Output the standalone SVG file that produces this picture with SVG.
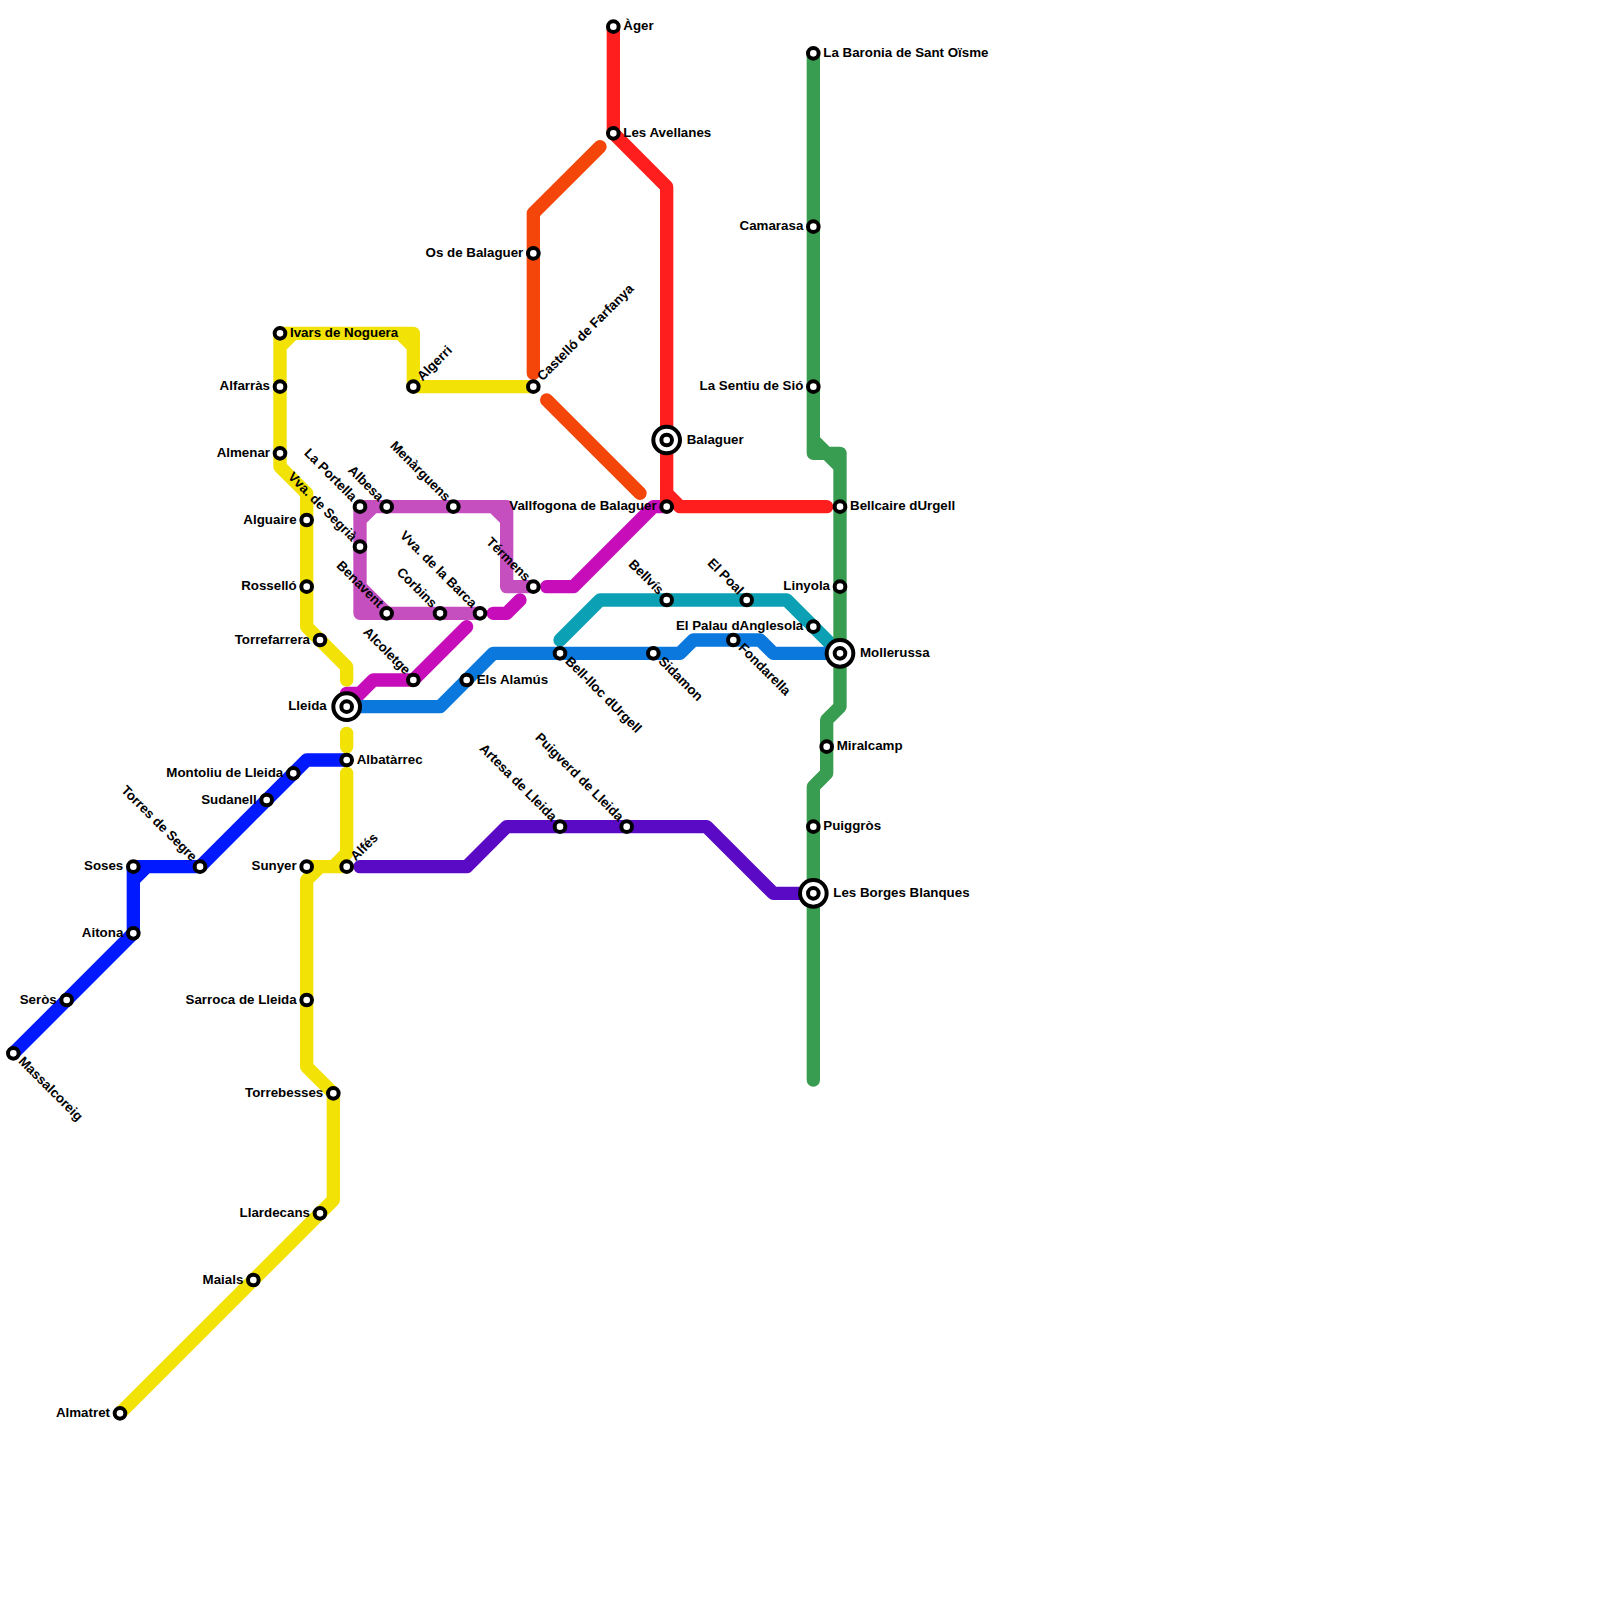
<svg xmlns="http://www.w3.org/2000/svg" width="1600" height="1600" viewBox="0 0 1600 1600">
<style>
.st{fill:#fff;stroke:#000;stroke-width:4}
.ring{fill:#fff;stroke:#000;stroke-width:4}
text{font-family:"Liberation Sans",Arial,sans-serif;font-size:13.33px;font-weight:700;fill:#000}
.e{text-anchor:end}
</style>
<rect width="1600" height="1600" fill="#fff"/>
<g id="connectors" transform="scale(13.3333)">
<g stroke-width="1" fill="none" stroke-linecap="round" stroke-linejoin="round">
<path stroke="#f2e205" d="M21 34V25H31V29M21 26L22 25M30 25L31 26M21 34V35L23 37V47L26 50V51M26 55V56M26 58V64L25 65M23 65H26M24 65L23 66V80L25 82V90L9 106M31 29H40"/>
<path stroke="#0019ff" d="M1 79L10 70V65H15L23 57H26M10 66L11 65"/>
<path stroke="#c64fbf" d="M27 46V38H38V44H40M27 39L28 38M37 38L38 39M27 46H36M27 44L29 46M27 45L28 46"/>
<path stroke="#c70cb9" d="M41 44H43L49 38H50M37 46H38L39 45M35 47L31 51H28L26 53M26 52H27L28 51"/>
<path stroke="#f4460a" d="M40 28V16L45 11M41 30L48 37"/>
<path stroke="#ff1e1e" d="M46 2V10L50 14V37L51 38H62M50 37V38"/>
<path stroke="#0ba0b3" d="M42 48L45 45H59L63 49"/>
<path stroke="#0a78dc" d="M26 53H33L37 49H51L52 48H57L58 49H63"/>
<path stroke="#389d50" d="M61 4V34H63V53L62 54V58L61 59V81M61 33L63 35"/>
<path stroke="#5a0ac4" d="M27 65H35L38 62H53L58 67H61"/>
</g>
</g>
<g id="stations">
<g id="ager"><circle class="st" cx="613.33" cy="26.67" r="5.33"/><text x="623.3" y="30.2">Àger</text></g>
<g id="avellanes"><circle class="st" cx="613.33" cy="133.33" r="5.33"/><text x="623.3" y="136.8">Les Avellanes</text></g>
<g id="baronia"><circle class="st" cx="813.33" cy="53.33" r="5.33"/><text x="823.3" y="56.8">La Baronia de Sant Oïsme</text></g>
<g id="camarasa"><circle class="st" cx="813.33" cy="226.67" r="5.33"/><text class="e" x="803.3" y="230.2">Camarasa</text></g>
<g id="sentiu"><circle class="st" cx="813.33" cy="386.67" r="5.33"/><text class="e" x="803.3" y="390.2">La Sentiu de Sió</text></g>
<g id="os"><circle class="st" cx="533.33" cy="253.33" r="5.33"/><text class="e" x="523.3" y="256.8">Os de Balaguer</text></g>
<g id="ivars"><circle class="st" cx="280" cy="333.33" r="5.33"/><text x="290" y="336.8">Ivars de Noguera</text></g>
<g id="alfarras"><circle class="st" cx="280" cy="386.67" r="5.33"/><text class="e" x="270" y="390.2">Alfarràs</text></g>
<g id="almenar"><circle class="st" cx="280" cy="453.33" r="5.33"/><text class="e" x="270" y="456.8">Almenar</text></g>
<g id="alguaire"><circle class="st" cx="306.67" cy="520" r="5.33"/><text class="e" x="296.7" y="523.5">Alguaire</text></g>
<g id="rossello"><circle class="st" cx="306.67" cy="586.67" r="5.33"/><text class="e" x="296.7" y="590.2">Rosselló</text></g>
<g id="torrefarrera"><circle class="st" cx="320" cy="640" r="5.33"/><text class="e" x="310" y="643.5">Torrefarrera</text></g>
<g id="algerri"><circle class="st" cx="413.33" cy="386.67" r="5.33"/><text transform="translate(413.33 386.67) rotate(-45)" x="10" y="2.8">Algerri</text></g>
<g id="castello"><circle class="st" cx="533.33" cy="386.67" r="5.33"/><text transform="translate(533.33 386.67) rotate(-45)" x="10" y="2.8">Castelló de Farfanya</text></g>
<g id="alfes"><circle class="st" cx="346.67" cy="866.67" r="5.33"/><text transform="translate(346.67 866.67) rotate(-45)" x="10" y="2.8">Alfés</text></g>
<g id="portella"><circle class="st" cx="360" cy="506.67" r="5.33"/><text class="e" transform="translate(360 506.67) rotate(45)" x="-9.3" y="2.6">La Portella</text></g>
<g id="segria"><circle class="st" cx="360" cy="546.67" r="5.33"/><text class="e" transform="translate(360 546.67) rotate(45)" x="-9.3" y="2.6">Vva. de Segrià</text></g>
<g id="albesa"><circle class="st" cx="386.67" cy="506.67" r="5.33"/><text class="e" transform="translate(386.67 506.67) rotate(45)" x="-9.3" y="2.6">Albesa</text></g>
<g id="menarguens"><circle class="st" cx="453.33" cy="506.67" r="5.33"/><text class="e" transform="translate(453.33 506.67) rotate(45)" x="-9.3" y="2.6">Menàrguens</text></g>
<g id="barca"><circle class="st" cx="480" cy="613.33" r="5.33"/><text class="e" transform="translate(480 613.33) rotate(45)" x="-9.3" y="2.6">Vva. de la Barca</text></g>
<g id="benavent"><circle class="st" cx="386.67" cy="613.33" r="5.33"/><text class="e" transform="translate(386.67 613.33) rotate(45)" x="-9.3" y="2.6">Benavent</text></g>
<g id="corbins"><circle class="st" cx="440" cy="613.33" r="5.33"/><text class="e" transform="translate(440 613.33) rotate(45)" x="-9.3" y="2.6">Corbins</text></g>
<g id="termens"><circle class="st" cx="533.33" cy="586.67" r="5.33"/><text class="e" transform="translate(533.33 586.67) rotate(45)" x="-9.3" y="2.6">Térmens</text></g>
<g id="alcoletge"><circle class="st" cx="413.33" cy="680" r="5.33"/><text class="e" transform="translate(413.33 680) rotate(45)" x="-9.3" y="2.6">Alcoletge</text></g>
<g id="bellvis"><circle class="st" cx="666.67" cy="600" r="5.33"/><text class="e" transform="translate(666.67 600) rotate(45)" x="-9.3" y="2.6">Bellvís</text></g>
<g id="poal"><circle class="st" cx="746.67" cy="600" r="5.33"/><text class="e" transform="translate(746.67 600) rotate(45)" x="-9.3" y="2.6">El Poal</text></g>
<g id="artesa"><circle class="st" cx="560" cy="826.67" r="5.33"/><text class="e" transform="translate(560 826.67) rotate(45)" x="-9.3" y="2.6">Artesa de Lleida</text></g>
<g id="puigverd"><circle class="st" cx="626.67" cy="826.67" r="5.33"/><text class="e" transform="translate(626.67 826.67) rotate(45)" x="-9.3" y="2.6">Puigverd de Lleida</text></g>
<g id="torres"><circle class="st" cx="200" cy="866.67" r="5.33"/><text class="e" transform="translate(200 866.67) rotate(45)" x="-9.3" y="2.6">Torres de Segre</text></g>
<g id="massalcoreig"><circle class="st" cx="13.33" cy="1053.33" r="5.33"/><text transform="translate(13.33 1053.33) rotate(45)" x="9.2" y="3">Massalcoreig</text></g>
<g id="belllloc"><circle class="st" cx="560" cy="653.33" r="5.33"/><text transform="translate(560 653.33) rotate(45)" x="9.2" y="3">Bell-lloc dUrgell</text></g>
<g id="sidamon"><circle class="st" cx="653.33" cy="653.33" r="5.33"/><text transform="translate(653.33 653.33) rotate(45)" x="9.2" y="3">Sidamon</text></g>
<g id="fondarella"><circle class="st" cx="733.33" cy="640" r="5.33"/><text transform="translate(733.33 640) rotate(45)" x="9.2" y="3">Fondarella</text></g>
<g id="bellcaire"><circle class="st" cx="840" cy="506.67" r="5.33"/><text x="850" y="510.2">Bellcaire dUrgell</text></g>
<g id="linyola"><circle class="st" cx="840" cy="586.67" r="5.33"/><text class="e" x="830" y="590.2">Linyola</text></g>
<g id="palau"><circle class="st" cx="813.33" cy="626.67" r="5.33"/><text class="e" x="803.3" y="630.2">El Palau dAnglesola</text></g>
<g id="vallfogona"><circle class="st" cx="666.67" cy="506.67" r="5.33"/><text class="e" x="656.7" y="510.2">Vallfogona de Balaguer</text></g>
<g id="alamus"><circle class="st" cx="466.67" cy="680" r="5.33"/><text x="476.7" y="683.5">Els Alamús</text></g>
<g id="albatarrec"><circle class="st" cx="346.67" cy="760" r="5.33"/><text x="356.7" y="763.5">Albatàrrec</text></g>
<g id="miralcamp"><circle class="st" cx="826.67" cy="746.67" r="5.33"/><text x="836.7" y="750.2">Miralcamp</text></g>
<g id="puiggros"><circle class="st" cx="813.33" cy="826.67" r="5.33"/><text x="823.3" y="830.2">Puiggròs</text></g>
<g id="montoliu"><circle class="st" cx="293.33" cy="773.33" r="5.33"/><text class="e" x="283.3" y="776.8">Montoliu de Lleida</text></g>
<g id="sudanell"><circle class="st" cx="266.67" cy="800" r="5.33"/><text class="e" x="256.7" y="803.5">Sudanell</text></g>
<g id="soses"><circle class="st" cx="133.33" cy="866.67" r="5.33"/><text class="e" x="123.3" y="870.2">Soses</text></g>
<g id="aitona"><circle class="st" cx="133.33" cy="933.33" r="5.33"/><text class="e" x="123.3" y="936.8">Aitona</text></g>
<g id="seros"><circle class="st" cx="66.67" cy="1000" r="5.33"/><text class="e" x="56.7" y="1003.5">Seròs</text></g>
<g id="sunyer"><circle class="st" cx="306.67" cy="866.67" r="5.33"/><text class="e" x="296.7" y="870.2">Sunyer</text></g>
<g id="sarroca"><circle class="st" cx="306.67" cy="1000" r="5.33"/><text class="e" x="296.7" y="1003.5">Sarroca de Lleida</text></g>
<g id="torrebesses"><circle class="st" cx="333.33" cy="1093.33" r="5.33"/><text class="e" x="323.3" y="1096.8">Torrebesses</text></g>
<g id="llardecans"><circle class="st" cx="320" cy="1213.33" r="5.33"/><text class="e" x="310" y="1216.8">Llardecans</text></g>
<g id="maials"><circle class="st" cx="253.33" cy="1280" r="5.33"/><text class="e" x="243.3" y="1283.5">Maials</text></g>
<g id="almatret"><circle class="st" cx="120" cy="1413.33" r="5.33"/><text class="e" x="110" y="1416.8">Almatret</text></g>
<g id="balaguer"><circle class="ring" cx="666.67" cy="440" r="13.33"/><circle class="st" cx="666.67" cy="440" r="5.33"/><text x="686.7" y="443.5">Balaguer</text></g>
<g id="mollerussa"><circle class="ring" cx="840" cy="653.33" r="13.33"/><circle class="st" cx="840" cy="653.33" r="5.33"/><text x="860" y="656.8">Mollerussa</text></g>
<g id="borges"><circle class="ring" cx="813.33" cy="893.33" r="13.33"/><circle class="st" cx="813.33" cy="893.33" r="5.33"/><text x="833.3" y="896.8">Les Borges Blanques</text></g>
<g id="lleida"><circle class="ring" cx="346.67" cy="706.67" r="13.33"/><circle class="st" cx="346.67" cy="706.67" r="5.33"/><text class="e" x="326.7" y="710.2">Lleida</text></g>
</g>
</svg>
